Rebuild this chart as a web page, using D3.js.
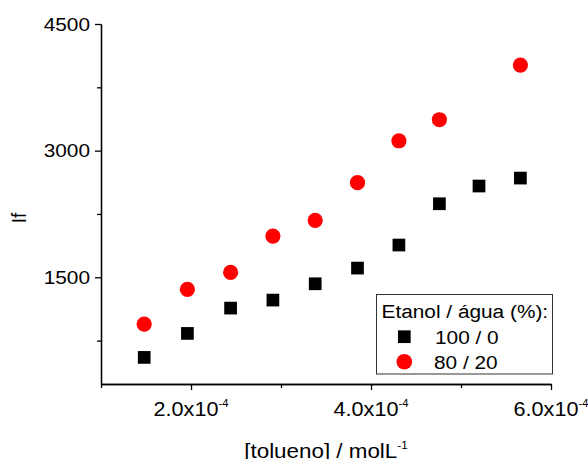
<!DOCTYPE html>
<html>
<head>
<meta charset="utf-8">
<script src="https://cdn.jsdelivr.net/npm/d3@7"></script>
<style>
  body { margin: 0; background: #fff; }
  text { font-family: "Liberation Sans", Arial, sans-serif; fill: #000; }
</style>
</head>
<body>
<div class="chart"></div>
<script>
// toluene concentration (mol/L) and fluorescence intensity
const conc100 = [1.48e-4, 1.96e-4, 2.44e-4, 2.91e-4, 3.38e-4, 3.85e-4, 4.31e-4, 4.76e-4, 5.20e-4, 5.66e-4]
const if100 = [551, 835, 1135, 1230, 1423, 1609, 1882, 2371, 2581, 2675]
const conc80 = [1.48e-4, 1.96e-4, 2.44e-4, 2.91e-4, 3.38e-4, 3.85e-4, 4.31e-4, 4.76e-4, 5.66e-4]
const if80 = [945, 1357, 1558, 1988, 2174, 2620, 3117, 3366, 4014]

const xMajor = [2e-4, 4e-4, 6e-4]
const xMinor = [1e-4, 3e-4, 5e-4]
const yMajor = [1500, 3000, 4500]
const yMinor = [750, 2250, 3750]
const seriesNames = ["100 / 0", "80 / 20"]

const W = 588, H = 459
const stretch = 1.12

const svg = d3.select(".chart").append("svg").attr("width", W).attr("height", H)

const x = d3.scaleLinear().domain([1e-4, 6e-4]).range([101, 551])
const y = d3.scaleLinear().domain([236, 4500]).range([384, 24])

function label(x0, y0, str, size, anchor, rot) {
  return svg.append("text")
    .attr("transform", `translate(${x0},${y0}) scale(${stretch},1)` + (rot ? ` rotate(${rot})` : ""))
    .attr("text-anchor", anchor)
    .style("font-size", size + "px")
    .text(str)
}

// axes
const xAxis = svg.append("g").attr("transform", `translate(0,${y.range()[0]})`)
xAxis.call(d3.axisBottom(x).tickValues(xMajor).tickSize(6).tickSizeOuter(0).tickFormat(""))
const xAxisMinor = svg.append("g").attr("transform", `translate(0,${y.range()[0]})`)
xAxisMinor.call(d3.axisBottom(x).tickValues(xMinor).tickSize(4).tickSizeOuter(0).tickFormat(""))

const yAxis = svg.append("g").attr("transform", `translate(${x.range()[0]},0)`)
yAxis.call(d3.axisLeft(y).tickValues(yMajor).tickSize(6).tickSizeOuter(0).tickFormat(""))
const yAxisMinor = svg.append("g").attr("transform", `translate(${x.range()[0]},0)`)
yAxisMinor.call(d3.axisLeft(y).tickValues(yMinor).tickSize(4).tickSizeOuter(0).tickFormat(""))

svg.selectAll(".domain, .tick line").attr("stroke", "#000").attr("stroke-width", 1.3)

// tick labels
yMajor.forEach(v => label(x.range()[0] - 11, y(v) + 6.5, v, 18.6, "end"))

xMajor.forEach(v => {
  const t = label(x(v), 416, "", 19.3, "middle")
  t.append("tspan").text((v * 1e4).toFixed(1) + "x10")
  t.append("tspan").attr("dy", -9).style("font-size", "10px").text("-4")
})

// axis titles
label(26, 218, "If", 18.6, "middle", -90)
const xt = label(326, 458, "", 20, "middle")
xt.append("tspan").text("[tolueno] / molL")
xt.append("tspan").attr("dy", -9).style("font-size", "10.5px").text("-1")

// points
const sq = 12.7
svg.selectAll(".pt100").data(conc100).enter().append("rect")
  .attr("x", (d) => x(d) - sq / 2)
  .attr("y", (d, i) => y(if100[i]) - sq / 2)
  .attr("width", sq).attr("height", sq)
  .attr("fill", "#000")

svg.selectAll(".pt80").data(conc80).enter().append("circle")
  .attr("cx", (d) => x(d))
  .attr("cy", (d, i) => y(if80[i]))
  .attr("r", 7.6)
  .attr("fill", "#ff0000")

// legend
svg.append("rect").attr("x", 376.5).attr("y", 294.5).attr("width", 176).attr("height", 79.5)
  .attr("fill", "#fff").attr("stroke", "#333").attr("stroke-width", 1)
label(381.5, 317.5, "Etanol / água (%):", 18.6, "start")
svg.append("rect").attr("x", 404.3 - sq / 2).attr("y", 336.7 - sq / 2).attr("width", sq).attr("height", sq).attr("fill", "#000")
svg.append("circle").attr("cx", 404.3).attr("cy", 361.7).attr("r", 7.8).attr("fill", "#ff0000")
label(435, 343.5, seriesNames[0], 18.6, "start")
label(434, 368.5, seriesNames[1], 18.6, "start")
</script>
</body>
</html>
